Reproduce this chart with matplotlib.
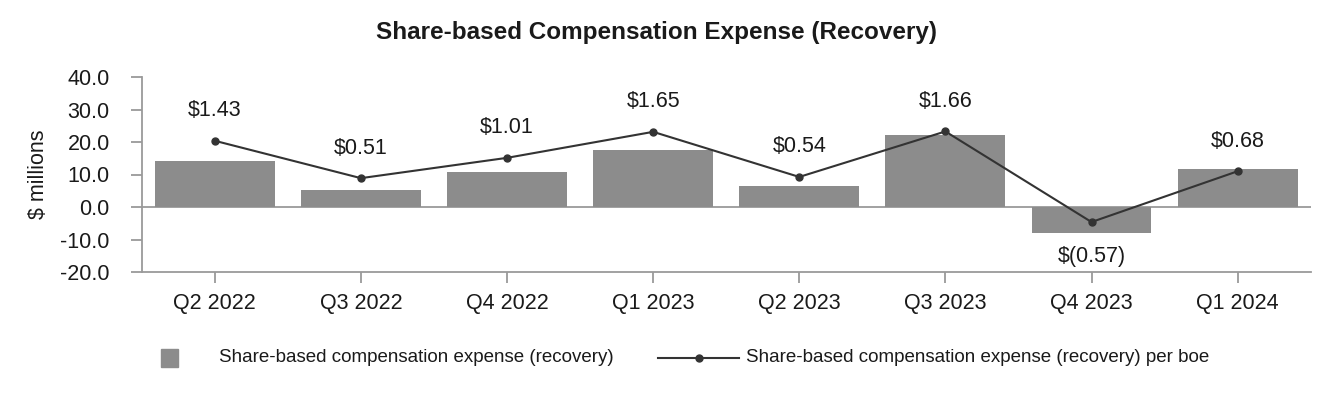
import matplotlib
matplotlib.use("Agg")
import matplotlib.pyplot as plt
from matplotlib.patches import Rectangle
from matplotlib.lines import Line2D

plt.rcParams['font.family'] = ['Liberation Sans', 'DejaVu Sans']

quarters = ["Q2 2022", "Q3 2022", "Q4 2022", "Q1 2023", "Q2 2023", "Q3 2023", "Q4 2023", "Q1 2024"]
expense = [14.3, 5.2, 10.7, 17.5, 6.5, 22.2, -8.1, 11.7]      # $ millions
per_boe = [1.43, 0.51, 1.01, 1.65, 0.54, 1.66, -0.57, 0.68]   # $/boe
y_ticks = [-20, -10, 0, 10, 20, 30, 40]

bar_color = "#8c8c8c"
line_color = "#333333"
spine_color = "#9a9a9a"
text_color = "#1a1a1a"

def money(v):
    return f"${v:.2f}" if v >= 0 else f"$({abs(v):.2f})"

fig = plt.figure(figsize=(13.32, 4.0), dpi=100)
ax = fig.add_axes([0.1064, 0.32, 0.8776, 0.4875])

x = list(range(len(quarters)))
ax.bar(x, expense, width=0.82, color=bar_color, zorder=2)
ax.axhline(0, color=spine_color, lw=1.3, zorder=1)

ax.set_xlim(-0.5, len(quarters) - 0.5)
ax.set_ylim(-20, 40)
ax.set_yticks(y_ticks)
ax.set_yticklabels([f"{t:.1f}" for t in y_ticks])
ax.set_xticks(x)
ax.set_xticklabels(quarters)
ax.tick_params(axis="both", colors=spine_color, labelcolor=text_color, labelsize=15.5, length=8, width=1.3)
ax.tick_params(axis="y", pad=15)
ax.tick_params(axis="x", pad=7)
for side in ("top", "right"):
    ax.spines[side].set_visible(False)
for side in ("left", "bottom"):
    ax.spines[side].set_color(spine_color)
    ax.spines[side].set_linewidth(1.3)
ax.set_ylabel("$ millions", fontsize=15.5, color=text_color, labelpad=8)

# per boe line on a hidden secondary axis
ax2 = ax.twinx()
ax2.set_ylim(-1.8, 3.0)
ax2.axis("off")
ax2.plot(x, per_boe, color=line_color, lw=1.5, marker="o", markersize=5, zorder=3)
for xi, v in zip(x, per_boe):
    if v >= 0:
        ax2.annotate(money(v), (xi, v), xytext=(0, 30), textcoords="offset pixels",
                     ha="center", va="center", fontsize=15.5, color=text_color)
    else:
        ax2.annotate(money(v), (xi, v), xytext=(0, -34), textcoords="offset pixels",
                     ha="center", va="center", fontsize=15.5, color=text_color)

fig.text(0.493, 1 - 32 / 400, "Share-based Compensation Expense (Recovery)", ha="center", va="center",
         fontsize=17.5, fontweight="bold", color=text_color)

# legend drawn by hand to match the spacing of the original
ly = 1 - 358 / 400
fig.add_artist(Rectangle((161 / 1332, ly - 9 / 400), 17 / 1332, 18 / 400,
                         transform=fig.transFigure, color=bar_color))
fig.text(219 / 1332, ly, "Share-based compensation expense (recovery)", ha="left", va="center",
         fontsize=13.5, color=text_color)
fig.add_artist(Line2D([658 / 1332, 739 / 1332], [ly, ly], transform=fig.transFigure,
                      color=line_color, lw=1.5))
fig.add_artist(Line2D([698.5 / 1332], [ly], transform=fig.transFigure, color=line_color,
                      marker="o", markersize=5))
fig.text(746 / 1332, ly, "Share-based compensation expense (recovery) per boe", ha="left", va="center",
         fontsize=13.5, color=text_color)

fig.savefig("out.png", dpi=100)
